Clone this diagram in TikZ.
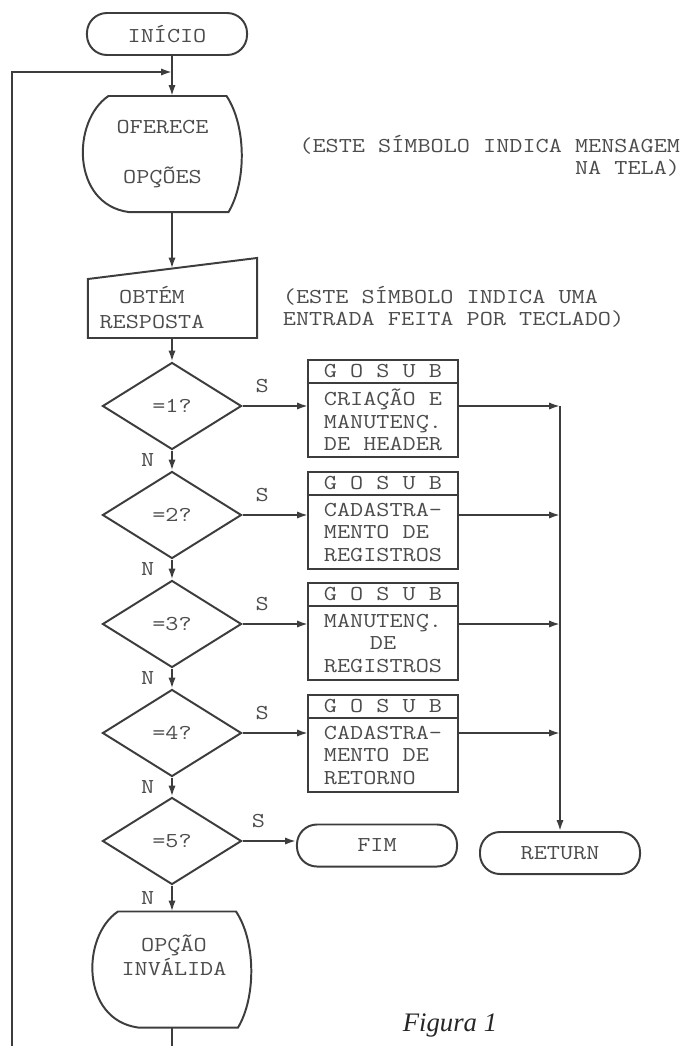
\documentclass[tikz,border=0pt]{standalone}
\usepackage{fontspec}
\newfontfamily\typer[FakeStretch=1.2]{Latin Modern Mono}
\newfontfamily\figfont{Liberation Serif}
\usetikzlibrary{shapes.geometric,arrows.meta,positioning,calc}
\definecolor{ink}{gray}{0.24}
\definecolor{typed}{gray}{0.30}
\newcommand{\dispoutline}[1]{%
  \draw ($(#1.north west)+(25,0)$) -- ($(#1.north east)+(-15,0)$)
    .. controls ($(#1.north east)+(5,30)$) and ($(#1.south east)+(5,-30)$) .. ($(#1.south east)+(-13,0)$)
    -- ($(#1.south west)+(45,0)$)
    .. controls ($(#1.south west)+(-12,-8)$) and ($(#1.north west)+(-12,25)$) .. ($(#1.north west)+(25,0)$) -- cycle;}

\begin{document}
\begin{tikzpicture}[x=0.025cm, y=-0.025cm, line width=1.4pt, color=ink,
  font=\typer\fontsize{15.1}{16}\selectfont,
  every node/.style={text=typed},
  term/.style={draw, rounded corners=0.5cm, minimum width=4cm, minimum height=1.05cm, inner sep=0pt},
  decision/.style={draw, diamond, minimum width=3.475cm, minimum height=2.175cm, inner sep=0pt},
  disp/.style={minimum width=3.95cm, minimum height=2.9cm, inner sep=0pt, outer sep=0pt},
  inbox/.style={minimum width=4.225cm, minimum height=2cm, inner sep=0pt, outer sep=0pt},
  subhead/.style={draw, minimum width=3.75cm, minimum height=0.575cm, inner sep=0pt, outer sep=0pt},
  subbody/.style={draw, minimum width=3.75cm, minimum height=1.85cm, inner sep=1pt, outer sep=0pt},
  arr/.style={-{Latex[length=0.27cm,width=0.18cm]}}]
\useasboundingbox (0,0) rectangle (680,1046);

\node[term] (ini) at (167,34) {INÍCIO};
\coordinate (join) at (172,72);
\coordinate (loopc) at (12,72);
\node[disp, align=center] (ofer) at (162.5,154) {OFERECE\\[0.69cm]OPÇÕES};
\dispoutline{ofer}
\node[anchor=east, align=right, inner sep=0pt] (note1) at (681,156) {(ESTE SÍMBOLO INDICA MENSAGEM\\NA TELA)};

\node[inbox] (obt) at (172.5,298) {};
\draw (obt.south west) -- ($(obt.north west)+(0,21)$) -- (obt.north east) -- (obt.south east) -- cycle;
\node[align=center] (obttxt) at (152,307.5) {OBTÉM\\[1.8pt]RESPOSTA};
\node[anchor=west, align=left, inner sep=0pt] (note2) at (282,307) {(ESTE SÍMBOLO INDICA UMA\\ENTRADA FEITA POR TECLADO)};

\foreach \i/\y in {1/406,2/515,3/624,4/733,5/841}
  \node[decision] (d\i) at (172,\y) {=\i?};

\foreach \i/\y/\al/\txt in {1/371.5/left/{CRIAÇÃO E\\MANUTENÇ.\\DE HEADER},
    2/483.5/left/{CADASTRA-\\MENTO DE\\REGISTROS},
    3/594.5/center/{MANUTENÇ.\\DE\\REGISTROS},
    4/706.5/left/{CADASTRA-\\MENTO DE\\RETORNO}} {
  \node[subhead] (g\i) at (383,\y) {G O S U B};
  \node[subbody, align=\al, below=0pt of g\i] (b\i) {\txt};
}

\node[term] (fim) at (377,845.5) {FIM};
\node[term] (ret) at (560,853) {RETURN};
\node[disp] (inv) at (172,969.5) {};
\dispoutline{inv}
\node[align=center] (invtxt) at (174,955) {OPÇÃO\\[1pt]INVÁLIDA};
\node[text=black!85] (fig) at (450,1025) {\figfont\itshape\fontsize{19}{22}\selectfont Figura 1};

\draw (ini.south -| join) -- (join);
\draw[arr] (join) -- (join |- ofer.north);
\draw[arr] (inv.south) -- ++(0,40) -| (loopc) -- (join);
\draw[arr] (ofer.south -| join) -- ($(obt.north -| join)+(0,10.5)$);
\draw[arr] (obt.south -| d1.north) -- (d1.north);
\foreach \i in {1,...,4} {
  \pgfmathtruncatemacro{\j}{\i+1}
  \draw[arr] (d\i.south) -- node[left=0.3cm] {N} (d\j.north);
  \draw[arr] (d\i.east) -- node[pos=0.3, above=0.2cm] {S} (d\i.east -| b\i.west);
  \draw[arr] (d\i.east -| b\i.east) -- (d\i.east -| ret.north);
}
\draw[arr] (d5.south) -- node[left=0.3cm] {N} (inv.north -| d5.south);
\draw[arr] (d5.east) -- node[pos=0.3, above=0.2cm] {S} (d5.east -| fim.west);
\draw[arr] (d1.east -| ret.north) -- (ret.north);
\end{tikzpicture}
\end{document}
